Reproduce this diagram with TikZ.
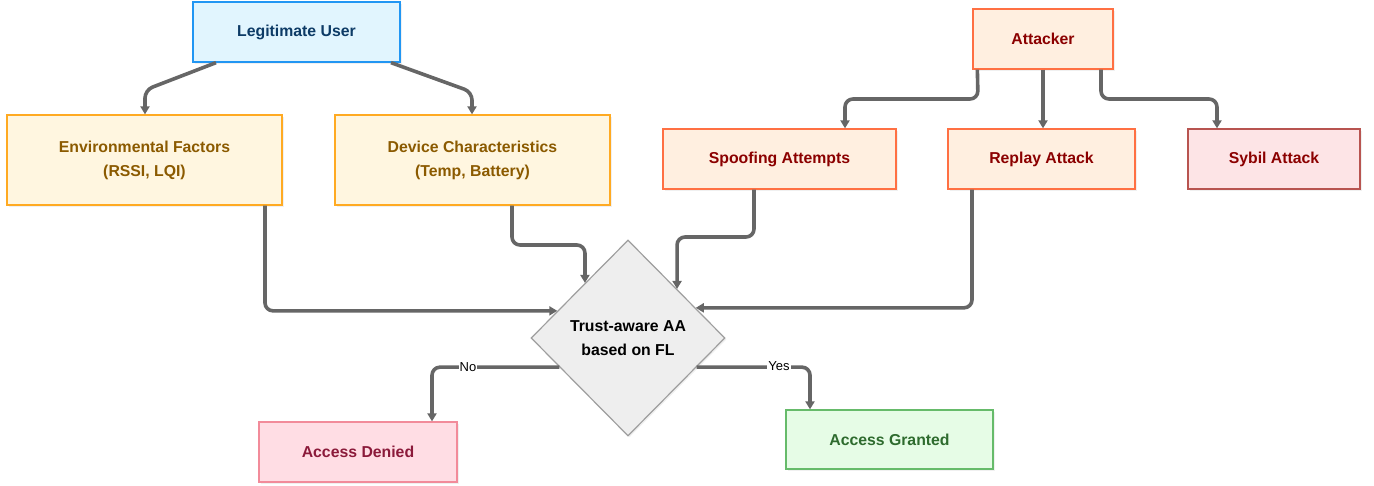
\documentclass[tikz,border=0pt]{standalone}
\usepackage{fontspec}
\setmainfont{Liberation Sans}
\usetikzlibrary{shapes.geometric,arrows.meta,shadows}
\definecolor{luF}{HTML}{E1F5FE}\definecolor{luD}{HTML}{2196F3}\definecolor{luT}{HTML}{0D3B66}
\definecolor{enF}{HTML}{FFF6E0}\definecolor{enD}{HTML}{FFAA22}\definecolor{enT}{HTML}{8B5A00}
\definecolor{atF}{HTML}{FFEFE0}\definecolor{atD}{HTML}{FF7043}\definecolor{atT}{HTML}{8B0000}
\definecolor{syF}{HTML}{FDE4E6}\definecolor{syD}{HTML}{B85450}
\definecolor{diF}{HTML}{EEEEEE}\definecolor{diD}{HTML}{9E9E9E}
\definecolor{deF}{HTML}{FFDDE4}\definecolor{deD}{HTML}{F28B9A}\definecolor{deT}{HTML}{8B1A3A}
\definecolor{grF}{HTML}{E6FCE6}\definecolor{grD}{HTML}{66BB6A}\definecolor{grT}{HTML}{2E6B2E}
\definecolor{conC}{HTML}{666666}
\tikzset{
  box/.style={rectangle, draw, line width=1.3pt, inner sep=2pt, align=center,
    font=\fontsize{15.8}{24}\selectfont\bfseries,
    drop shadow={opacity=0.12, shadow xshift=1.5pt, shadow yshift=-1.5pt}},
  user/.style={box, fill=luF, draw=luD, text=luT},
  factor/.style={box, fill=enF, draw=enD, text=enT},
  attk/.style={box, fill=atF, draw=atD, text=atT},
  sybil/.style={box, fill=syF, draw=syD, text=atT},
  deny/.style={box, fill=deF, draw=deD, text=deT},
  grant/.style={box, fill=grF, draw=grD, text=grT},
  decision/.style={diamond, draw=diD, fill=diF, line width=1.2pt, inner sep=0pt, align=center,
    font=\fontsize{15.8}{24}\selectfont\bfseries, text=black,
    drop shadow={opacity=0.12, shadow xshift=1.5pt, shadow yshift=-1.5pt}},
  conn/.style={draw=conC, line width=3.6pt, rounded corners=8pt,
    -{Triangle[length=8pt,width=9pt]}},
  lbl/.style={fill=white, inner sep=1pt, font=\fontsize{13}{15}\selectfont, text=black}
}
\begin{document}
\begin{tikzpicture}[x=1pt,y=-1pt]
\useasboundingbox (0,0) rectangle (1374,485);
\node[user, minimum width=207pt, minimum height=60pt] (lu) at (296.5,32) {Legitimate User};
\node[factor, minimum width=275pt, minimum height=90pt] (env) at (144.5,160) {Environmental Factors\\(RSSI, LQI)};
\node[factor, minimum width=275pt, minimum height=90pt] (dev) at (472.5,160) {Device Characteristics\\(Temp, Battery)};
\node[attk, minimum width=140pt, minimum height=60pt] (att) at (1043,39) {Attacker};
\node[attk, minimum width=233pt, minimum height=60pt] (spo) at (779.5,159) {Spoofing Attempts};
\node[attk, minimum width=187pt, minimum height=60pt] (rep) at (1041.5,159) {Replay Attack};
\node[sybil, minimum width=172pt, minimum height=60pt] (syb) at (1274,159) {Sybil Attack};
\node[decision, minimum width=194pt, minimum height=196pt] (dia) at (628,338) {Trust-aware AA\\based on FL};
\node[deny, minimum width=198pt, minimum height=60pt] (den) at (358,452) {Access Denied};
\node[grant, minimum width=207pt, minimum height=59pt] (gra) at (889.5,439.5) {Access Granted};

% legitimate user
\draw[conn] ([xshift=-80.5pt]lu.south) -- (145,90) -- (env.north -| 145,0);
\draw[conn] ([xshift=94.5pt]lu.south) -- (472,92) -- (dev.north -| 472,0);
% factors to decision
\draw[conn] (env.south -| 265,0) |- (dia.159);
\draw[conn] (dev.south -| 512,0) -- (512,245) -| (dia.128.5);
% attacker
\draw[conn] ([xshift=5pt]att.south west) -- (978,99) -| (spo.north -| 845,0);
\draw[conn] (att.south) -- (att.south |- rep.north);
\draw[conn] (att.south -| 1101,0) -- (1101,99) -| (syb.north -| 1217,0);
% attacks to decision
\draw[conn] (spo.south -| 754,0) -- (754,237) -| (dia.45);
\draw[conn] (rep.south -| 972,0) |- (dia.24);
% outcomes
\draw[conn] (dia.203) -| (den.north -| 432,0);
\draw[conn] (dia.337) -| (gra.north -| 810,0);
\node[lbl] (nolbl) at (468,367) {No};
\node[lbl] (yeslbl) at (779,366) {Yes};
\end{tikzpicture}
\end{document}
